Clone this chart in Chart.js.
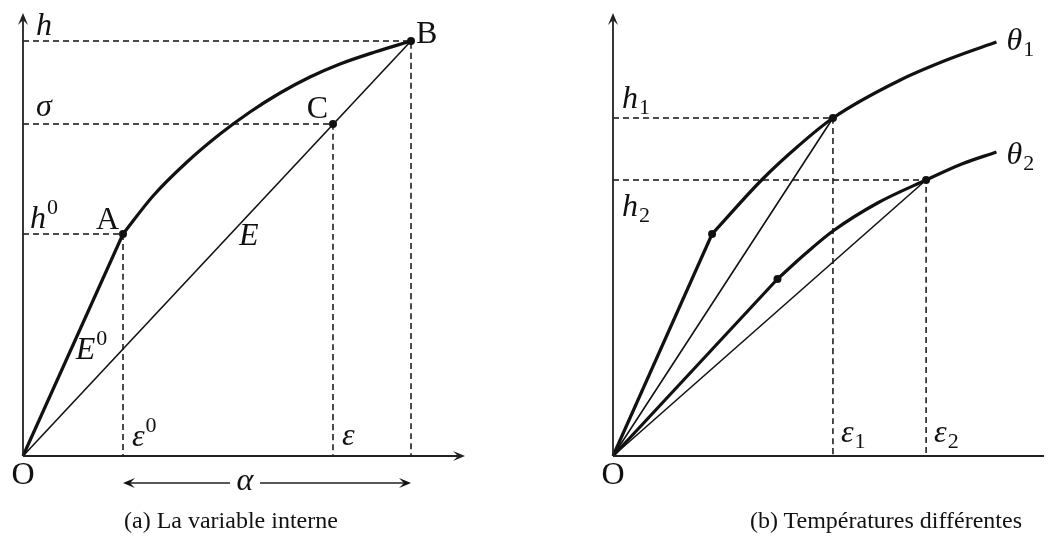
<!DOCTYPE html>
<html>
<head>
<meta charset="utf-8">
<script src="https://cdn.jsdelivr.net/npm/chart.js@4"></script>
<style>
  body { margin: 0; background: #fff; width: 1048px; height: 541px; position: relative; overflow: hidden; }
  canvas { position: absolute; top: 0; }
  #chartA { left: 0; }
  #chartB { left: 524px; }
  .caption { position: absolute; top: 507px; font: 24px "Liberation Serif", serif; color: #111; white-space: nowrap; }
</style>
</head>
<body>
<canvas id="chartA" width="524" height="541"></canvas>
<canvas id="chartB" width="524" height="541"></canvas>
<div class="caption" id="capA" style="left:124px">(a) La variable interne</div>
<div class="caption" id="capB" style="left:750px">(b) Températures différentes</div>
<script>
// (a) courbe A -> B
const curveAX = [1.00, 1.30, 1.64, 1.97, 2.27, 2.57, 2.87, 3.17, 3.52, 3.88];
const curveAY = [2.22, 2.60, 2.94, 3.22, 3.44, 3.63, 3.79, 3.92, 4.04, 4.15];
// points A, B, C
const pointNames = ['A', 'B', 'C'];
const pointsX = [1.00, 3.88, 3.10];
const pointsY = [2.22, 4.15, 3.32];
// (b) deux temperatures
const theta1X = [1.00, 1.51, 1.87, 2.22, 2.90, 3.42, 3.87];
const theta1Y = [2.22, 2.77, 3.10, 3.38, 3.76, 3.98, 4.14];
const theta2X = [1.66, 1.95, 2.22, 2.67, 3.16, 3.52, 3.87];
const theta2Y = [1.77, 2.03, 2.25, 2.53, 2.76, 2.92, 3.04];
const knee1 = 3, knee2 = 4; // index of (eps1,h1) and (eps2,h2)

const INK = '#111';
const xy = (xs, ys) => xs.map((x, i) => ({ x: x, y: ys[i] }));
const O = { x: 0, y: 0 };

function seg(data, width, dash) {
  return {
    data: data, showLine: true, borderColor: INK, borderWidth: width,
    borderDash: dash || [], pointRadius: 0, cubicInterpolationMode: 'monotone', clip: false
  };
}
function guide(p) {
  return seg([{ x: 0, y: p.y }, p, { x: p.x, y: 0 }], 1.5, [6, 4]);
}
function dots(data) {
  return { data: data, showLine: false, pointRadius: 4, pointBackgroundColor: INK, pointBorderWidth: 0, clip: false };
}

function arrow(ctx, x, y, dx, dy) {
  const px = -dy, py = dx;
  ctx.beginPath();
  ctx.moveTo(x, y);
  ctx.lineTo(x - dx * 12 + px * 5, y - dy * 12 + py * 5);
  ctx.lineTo(x - dx * 7, y - dy * 7);
  ctx.lineTo(x - dx * 12 - px * 5, y - dy * 12 - py * 5);
  ctx.closePath();
  ctx.fill();
}

// label: base glyph with optional sup/sub script
function label(ctx, base, opts) {
  const italic = opts.italic !== false;
  const size = opts.size || 32;
  const main = (italic ? 'italic ' : '') + size + 'px "Liberation Serif", serif';
  const small = '22px "Liberation Serif", serif';
  ctx.font = main;
  const wb = ctx.measureText(base).width;
  let ws = 0;
  if (opts.script) {
    ctx.font = small;
    ws = ctx.measureText(opts.script).width + 1;
  }
  let x = opts.x;
  if (opts.align === 'right') x -= wb + ws;
  if (opts.align === 'center') x -= (wb + ws) / 2;
  ctx.fillStyle = INK;
  ctx.textAlign = 'left';
  ctx.textBaseline = 'alphabetic';
  ctx.font = main;
  ctx.fillText(base, x, opts.y);
  if (opts.script) {
    ctx.font = small;
    const dy = opts.sub ? 6 : -14;
    ctx.fillText(opts.script, x + wb + 1, opts.y + dy);
  }
}

function axesPlugin(rightArrow, drawLabels) {
  return {
    id: 'axes',
    afterDatasetsDraw(chart) {
      const ctx = chart.ctx, a = chart.chartArea;
      const xs = chart.scales.x, ys = chart.scales.y;
      const ox = xs.getPixelForValue(0), oy = ys.getPixelForValue(0);
      ctx.save();
      ctx.strokeStyle = '#222';
      ctx.fillStyle = '#222';
      ctx.lineWidth = 1.8;
      ctx.beginPath();
      ctx.moveTo(ox, oy); ctx.lineTo(ox, a.top + 4);
      ctx.moveTo(ox, oy); ctx.lineTo(a.right - (rightArrow ? 4 : 0), oy);
      ctx.stroke();
      arrow(ctx, ox, a.top, 0, -1);
      if (rightArrow) arrow(ctx, a.right, oy, 1, 0);
      drawLabels(ctx, xs, ys, ox, oy);
      ctx.restore();
    }
  };
}

function makeChart(id, datasets, xMax, yMax, pad, rightArrow, drawLabels) {
  return new Chart(document.getElementById(id), {
    type: 'scatter',
    data: { datasets: datasets },
    options: {
      responsive: false,
      devicePixelRatio: 1,
      animation: false,
      layout: { padding: pad },
      plugins: { legend: { display: false }, tooltip: { enabled: false } },
      scales: {
        x: { type: 'linear', display: false, min: 0, max: xMax },
        y: { type: 'linear', display: false, min: 0, max: yMax }
      }
    },
    plugins: [axesPlugin(rightArrow, drawLabels)]
  });
}

// ---------- (a) ----------
const pts = xy(pointsX, pointsY);
const [pA, pB, pC] = pts;
makeChart('chartA', [
  guide(pA), guide(pB), guide(pC),
  seg([O, pA], 3.2),
  seg(xy(curveAX, curveAY), 3.2),
  seg([O, pB], 1.6),
  dots(pts)
], 4.42, 4.43, { left: 23, right: 59, top: 13, bottom: 85 }, true, (ctx, xs, ys, ox, oy) => {
  const X = v => xs.getPixelForValue(v), Y = v => ys.getPixelForValue(v);
  label(ctx, 'h', { x: ox + 13, y: Y(pB.y) - 6 });
  label(ctx, 'σ', { x: ox + 13, y: Y(pC.y) - 8 });
  label(ctx, 'h', { x: ox + 7, y: Y(pA.y) - 6, script: '0' });
  label(ctx, pointNames[0], { x: X(pA.x) - 4, y: Y(pA.y) - 5, italic: false, align: 'right' });
  label(ctx, pointNames[1], { x: X(pB.x) + 5, y: Y(pB.y) + 2, italic: false });
  label(ctx, pointNames[2], { x: X(pC.x) - 5, y: Y(pC.y) - 6, italic: false, align: 'right' });
  label(ctx, 'E', { x: X(pB.x * 0.51) + 18, y: Y(pB.y * 0.51) + 1 });
  label(ctx, 'E', { x: X(pA.x * 0.437) + 9, y: Y(pA.y * 0.437), script: '0' });
  label(ctx, 'ε', { x: X(pA.x) + 9, y: oy - 10, script: '0' });
  label(ctx, 'ε', { x: X(pC.x) + 9, y: oy - 11 });
  label(ctx, 'O', { x: ox, y: oy + 28, italic: false, align: 'center' });
  // alpha dimension arrow
  const ay = oy + 27, x0 = X(pA.x), x1 = X(pB.x), xm = x0 + 122;
  ctx.lineWidth = 1.4;
  ctx.beginPath();
  ctx.moveTo(x0 + 4, ay); ctx.lineTo(xm - 15, ay);
  ctx.moveTo(xm + 15, ay); ctx.lineTo(x1 - 4, ay);
  ctx.stroke();
  arrow(ctx, x0, ay, -1, 0);
  arrow(ctx, x1, ay, 1, 0);
  label(ctx, 'α', { x: xm, y: ay + 7, align: 'center' });
});

// ---------- (b) ----------
const t1 = xy(theta1X, theta1Y), t2 = xy(theta2X, theta2Y);
const k1 = t1[knee1], k2 = t2[knee2];
makeChart('chartB', [
  guide(k1), guide(k2),
  seg([O, t1[0]], 3.2), seg(t1, 3.2),
  seg([O, t2[0]], 3.2), seg(t2, 3.2),
  seg([O, k1], 1.6), seg([O, k2], 1.6),
  dots([t1[0], k1, t2[0], k2])
], 4.35, 4.43, { left: 89, right: 0, top: 13, bottom: 85 }, false, (ctx, xs, ys, ox, oy) => {
  const X = v => xs.getPixelForValue(v), Y = v => ys.getPixelForValue(v);
  const e1 = t1[t1.length - 1], e2 = t2[t2.length - 1];
  label(ctx, 'h', { x: ox + 9, y: Y(k1.y) - 10, script: '1', sub: true });
  label(ctx, 'h', { x: ox + 9, y: Y(k2.y) + 36, script: '2', sub: true });
  label(ctx, 'θ', { x: X(e1.x) + 10, y: Y(e1.y) + 8, script: '1', sub: true });
  label(ctx, 'θ', { x: X(e2.x) + 10, y: Y(e2.y) + 12, script: '2', sub: true });
  label(ctx, 'ε', { x: X(k1.x) + 8, y: oy - 14, script: '1', sub: true });
  label(ctx, 'ε', { x: X(k2.x) + 8, y: oy - 14, script: '2', sub: true });
  label(ctx, 'O', { x: ox, y: oy + 28, italic: false, align: 'center' });
});
</script>
</body>
</html>
